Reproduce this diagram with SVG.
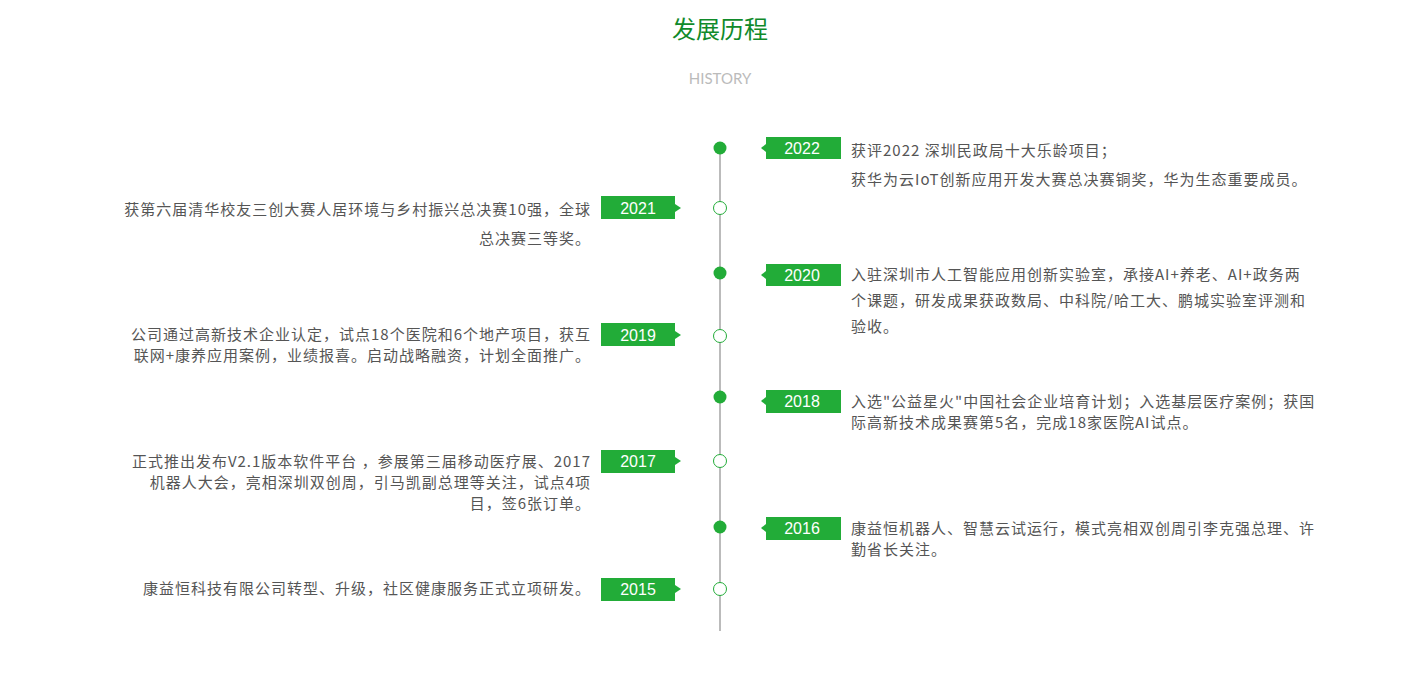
<svg xmlns="http://www.w3.org/2000/svg" width="1415" height="674" viewBox="0 0 1415 674">
<style>
.title{font-family:"Noto Sans CJK SC","Noto Sans",sans-serif;font-size:24px;fill:#108a2a;text-anchor:middle}
.sub{font-family:"Lato","Noto Sans",sans-serif;font-size:15px;fill:#bbbbbb;text-anchor:middle}
.txt{font-family:"Noto Sans CJK SC","Noto Sans",sans-serif;font-size:15px;letter-spacing:1px;fill:#555555}
.l{text-anchor:end}
.yr{font-family:"Liberation Sans","Noto Sans CJK SC",sans-serif;font-size:16px;fill:#ffffff;text-anchor:middle}
.tag{fill:#22ac38}
.dot{fill:#22ac38}
.ring{fill:#ffffff;stroke:#22ac38;stroke-width:1}
</style>
<rect width="1415" height="674" fill="#ffffff"/>
<text class="title" x="720" y="38">发展历程</text>
<text class="sub" x="720" y="84">HISTORY</text>
<g id="connectors">
<line x1="720" y1="148" x2="720" y2="631" stroke="#bbbbbb" stroke-width="2"/>
</g>
<g id="y2022">
<circle class="dot" cx="720" cy="148" r="6.5"/>
<rect class="tag" x="766" y="137" width="75" height="22"/>
<polygon class="tag" points="761,148 766,144 766,152"/>
<text class="yr" x="802" y="154">2022</text>
<text class="txt" x="851" y="156">获评2022 深圳民政局十大乐龄项目；</text>
<text class="txt" x="851" y="185">获华为云IoT创新应用开发大赛总决赛铜奖，华为生态重要成员。</text>
</g>
<g id="y2021">
<circle class="ring" cx="720" cy="208" r="6.5"/>
<rect class="tag" x="601" y="196" width="74" height="23"/>
<polygon class="tag" points="681,208 675,204 675,212"/>
<text class="yr" x="638" y="214">2021</text>
<text class="txt l" x="591" y="215">获第六届清华校友三创大赛人居环境与乡村振兴总决赛10强，全球</text>
<text class="txt l" x="591" y="244">总决赛三等奖。</text>
</g>
<g id="y2020">
<circle class="dot" cx="720" cy="273" r="6.5"/>
<rect class="tag" x="766" y="264" width="75" height="22"/>
<polygon class="tag" points="761,275 766,271 766,279"/>
<text class="yr" x="802" y="281">2020</text>
<text class="txt" x="851" y="280">入驻深圳市人工智能应用创新实验室，承接AI+养老、AI+政务两</text>
<text class="txt" x="851" y="306">个课题，研发成果获政数局、中科院/哈工大、鹏城实验室评测和</text>
<text class="txt" x="851" y="332">验收。</text>
</g>
<g id="y2019">
<circle class="ring" cx="720" cy="336" r="6.5"/>
<rect class="tag" x="601" y="323" width="74" height="23"/>
<polygon class="tag" points="681,335 675,331 675,339"/>
<text class="yr" x="638" y="341">2019</text>
<text class="txt l" x="591" y="340">公司通过高新技术企业认定，试点18个医院和6个地产项目，获互</text>
<text class="txt l" x="591" y="361">联网+康养应用案例，业绩报喜。启动战略融资，计划全面推广。</text>
</g>
<g id="y2018">
<circle class="dot" cx="720" cy="397" r="6.5"/>
<rect class="tag" x="766" y="390" width="75" height="23"/>
<polygon class="tag" points="761,401 766,397 766,405"/>
<text class="yr" x="802" y="407">2018</text>
<text class="txt" x="851" y="407">入选"公益星火"中国社会企业培育计划；入选基层医疗案例；获国</text>
<text class="txt" x="851" y="428">际高新技术成果赛第5名，完成18家医院AI试点。</text>
</g>
<g id="y2017">
<circle class="ring" cx="720" cy="461" r="6.5"/>
<rect class="tag" x="601" y="450" width="74" height="23"/>
<polygon class="tag" points="681,461 675,457 675,465"/>
<text class="yr" x="638" y="467">2017</text>
<text class="txt l" x="591" y="467">正式推出发布V2.1版本软件平台 ，参展第三届移动医疗展、2017</text>
<text class="txt l" x="591" y="488">机器人大会，亮相深圳双创周，引马凯副总理等关注，试点4项</text>
<text class="txt l" x="591" y="509">目，签6张订单。</text>
</g>
<g id="y2016">
<circle class="dot" cx="720" cy="527" r="6.5"/>
<rect class="tag" x="766" y="517" width="75" height="23"/>
<polygon class="tag" points="761,528 766,524 766,532"/>
<text class="yr" x="802" y="534">2016</text>
<text class="txt" x="851" y="534">康益恒机器人、智慧云试运行，模式亮相双创周引李克强总理、许</text>
<text class="txt" x="851" y="555">勤省长关注。</text>
</g>
<g id="y2015">
<circle class="ring" cx="720" cy="589" r="6.5"/>
<rect class="tag" x="601" y="578" width="74" height="23"/>
<polygon class="tag" points="681,589 675,585 675,593"/>
<text class="yr" x="638" y="595">2015</text>
<text class="txt l" x="591" y="594">康益恒科技有限公司转型、升级，社区健康服务正式立项研发。</text>
</g>
</svg>
